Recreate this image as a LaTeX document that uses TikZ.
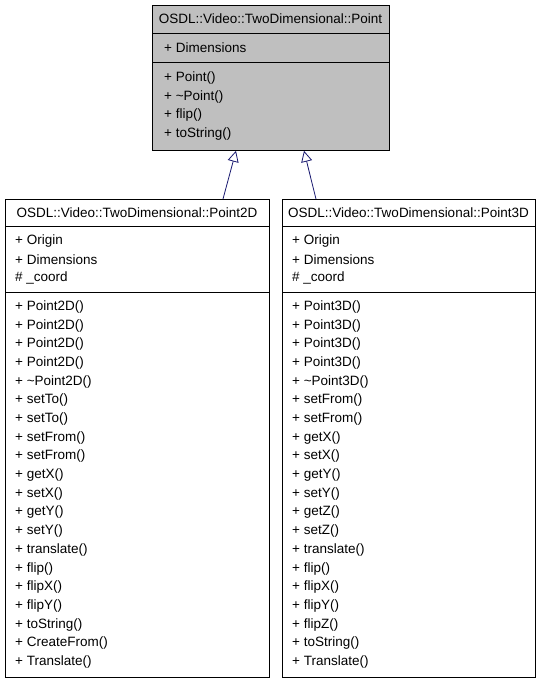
\documentclass[tikz,border=0pt]{standalone}
\usepackage{fontspec}
\setmainfont{Liberation Sans}
\usetikzlibrary{arrows.meta}
\begin{document}
\begin{tikzpicture}[x=1pt,y=-1pt,
  box/.style={draw=black,line width=0.8pt},
  txt/.style={anchor=west,inner sep=0pt,font=\fontsize{13.5}{15}\selectfont},
  ttl/.style={anchor=center,inner sep=0pt,font=\fontsize{13.5}{15}\selectfont},
  inh/.style={draw=navy,line width=0.8pt,-{Triangle[open,length=11pt,width=11pt]}}]
\definecolor{navy}{HTML}{191970}
\useasboundingbox (0,0) rectangle (541,683);
% top box
\node[box,fill=black!25,minimum width=237,minimum height=145,anchor=north west,inner sep=0pt] (P) at (152,5) {};
\draw[line width=0.8pt] (152,33) -- (389,33) (152,62) -- (389,62);
\node[ttl] (Pt) at (270.5,19) {OSDL::Video::TwoDimensional::Point};
\node[txt] (Pa) at (164,48) {+ Dimensions};
\foreach \t [count=\i from 0] in {Point(),\textasciitilde Point(),flip(),toString()}
  \node[txt] (Pm\i) at (164,78+\i*18.7) {+ \t};
% left box
\node[box,fill=white,minimum width=264,minimum height=478,anchor=north west,inner sep=0pt] (L) at (5,199) {};
\draw[line width=0.8pt] (5,226) -- (269,226) (5,292) -- (269,292);
\node[ttl] (Lt) at (137,213) {OSDL::Video::TwoDimensional::Point2D};
\foreach \t [count=\i from 0] in {+ Origin,+ Dimensions,\# \_coord}
  \node[txt] (La\i) at (15,241+\i*18.5) {\t};
\foreach \t [count=\i from 0] in {Point2D(),Point2D(),Point2D(),Point2D(),\textasciitilde Point2D(),setTo(),setTo(),setFrom(),setFrom(),getX(),setX(),getY(),setY(),translate(),flip(),flipX(),flipY(),toString(),CreateFrom(),Translate()}
  \node[txt] (Lm\i) at (15,307+\i*18.68) {+ \t};
% right box
\node[box,fill=white,minimum width=253,minimum height=478,anchor=north west,inner sep=0pt] (R) at (282,199) {};
\draw[line width=0.8pt] (282,226) -- (535,226) (282,292) -- (535,292);
\node[ttl] (Rt) at (408.5,213) {OSDL::Video::TwoDimensional::Point3D};
\foreach \t [count=\i from 0] in {+ Origin,+ Dimensions,\# \_coord}
  \node[txt] (Ra\i) at (292,241+\i*18.5) {\t};
\foreach \t [count=\i from 0] in {Point3D(),Point3D(),Point3D(),Point3D(),\textasciitilde Point3D(),setFrom(),setFrom(),getX(),setX(),getY(),setY(),getZ(),setZ(),translate(),flip(),flipX(),flipY(),flipZ(),toString(),Translate()}
  \node[txt] (Rm\i) at (292,307+\i*18.68) {+ \t};
\draw[inh] (L.north -| 223,0) -- (P.south -| 236,0);
\draw[inh] (R.north -| 316,0) -- (P.south -| 304,0);
\end{tikzpicture}
\end{document}
